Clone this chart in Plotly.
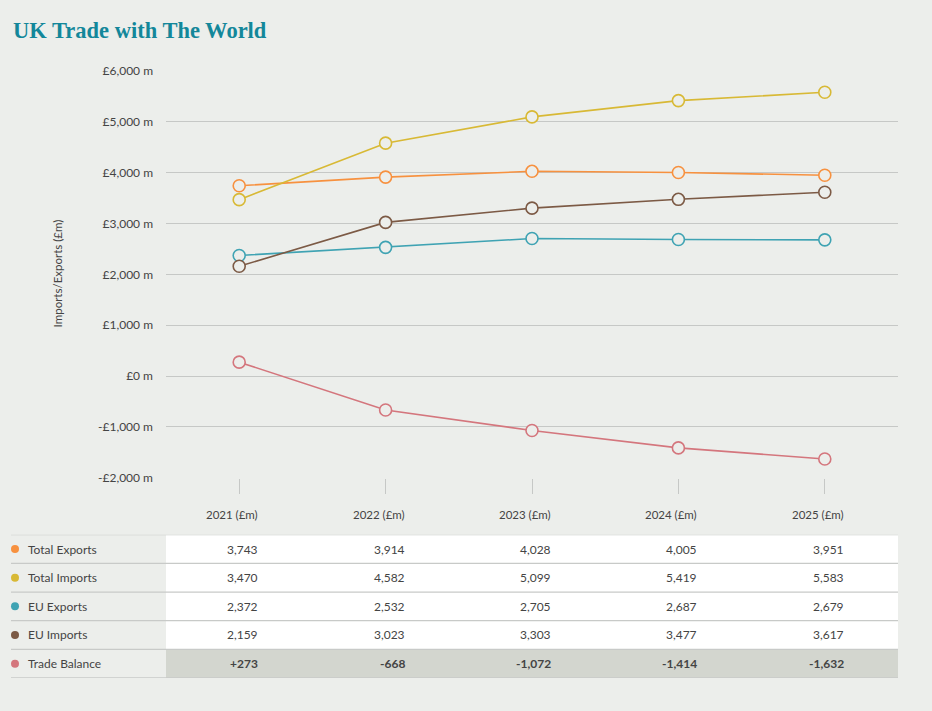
import plotly.graph_objects as go

years = ["2021", "2022", "2023", "2024", "2025"]
series = ["Total Exports", "Total Imports", "EU Exports", "EU Imports", "Trade Balance"]
total_exports = [3743, 3914, 4028, 4005, 3951]
total_imports = [3470, 4582, 5099, 5419, 5583]
eu_exports = [2372, 2532, 2705, 2687, 2679]
eu_imports = [2159, 3023, 3303, 3477, 3617]
trade_balance = [273, -668, -1072, -1414, -1632]
colors = ["#f7913f", "#d8b935", "#3fa3b3", "#7c5a45", "#d4767d"]
tick_vals = [-2000, -1000, 0, 1000, 2000, 3000, 4000, 5000, 6000]
tick_text = ["-£2,000 m", "-£1,000 m", "£0 m", "£1,000 m", "£2,000 m",
             "£3,000 m", "£4,000 m", "£5,000 m", "£6,000 m"]

values = [total_exports, total_imports, eu_exports, eu_imports, trade_balance]

W, H = 932, 711
BG = "#eceeeb"
TXT = "#444444"
GRID = "#c6c8c6"


def px(x):
    return x / W


# the paper area comes out ~8px inset top and bottom, so map page pixels onto it
def py(y):
    return 1 - (y - 8) / (H - 16)


fig = go.Figure()

for name, vals, col in zip(series, values, colors):
    fig.add_trace(go.Scatter(
        x=years, y=vals, name=name, mode="lines+markers",
        line=dict(color=col, width=1.6),
        marker=dict(size=12, color=BG, line=dict(color=col, width=1.6)),
        hoverinfo="x+y+name",
    ))

# legend dots of the table
fig.add_trace(go.Scatter(
    x=[15] * len(series), y=list(range(len(series))), mode="markers",
    marker=dict(size=8, color=colors), xaxis="x2", yaxis="y2",
    hoverinfo="skip", showlegend=False,
))

shapes = []
# cell backgrounds
for i in range(len(series)):
    shapes.append(dict(
        type="rect", xref="paper", yref="y2", x0=px(166), x1=px(898),
        y0=i - 0.5, y1=i + 0.5, line_width=0,
        fillcolor="#d3d6cf" if i == len(series) - 1 else "white", layer="below",
    ))
# horizontal row lines
for i in range(len(series) + 1):
    shapes.append(dict(
        type="line", xref="paper", yref="y2", x0=px(11), x1=px(898),
        y0=i - 0.5, y1=i - 0.5, line=dict(color="#c8cac8", width=1.2),
    ))

annotations = []
for i, (name, vals) in enumerate(zip(series, values)):
    annotations.append(dict(
        text=name, xref="paper", yref="y2", x=px(26), y=i, xanchor="left",
        showarrow=False, font=dict(size=12, color=TXT),
    ))
    for j, v in enumerate(vals):
        if name == "Trade Balance":
            s = f"<b>{v:+,}</b>" if v > 0 else f"<b>{v:,}</b>"
        else:
            s = f"{v:,}"
        annotations.append(dict(
            text=s, xref="x", yref="y2", x=j, y=i, xanchor="right", xshift=21,
            showarrow=False, font=dict(size=12, color=TXT),
        ))
for j, yr in enumerate(years):
    annotations.append(dict(
        text=f"{yr} (£m)", xref="x", yref="paper", x=j, y=py(514),
        xanchor="right", yanchor="middle", xshift=21, showarrow=False,
        font=dict(size=11.5, color=TXT),
    ))
annotations.append(dict(
    text="Imports/Exports (£m)", xref="paper", yref="paper", x=px(57), y=py(273),
    xanchor="center", yanchor="middle", textangle=-90, showarrow=False,
    font=dict(size=11.5, color=TXT),
))
annotations.append(dict(
    text="<b>UK Trade with The World</b>", xref="paper", yref="paper", x=px(11), y=py(30),
    xanchor="left", yanchor="middle", showarrow=False,
    font=dict(family="Liberation Serif", size=22.5, color="#13879a"),
))

fig.update_layout(
    width=W, height=H, margin=dict(l=0, r=0, t=0, b=0),
    paper_bgcolor=BG, plot_bgcolor=BG, showlegend=False,
    font=dict(family="Lato", size=12, color=TXT),
    xaxis=dict(domain=[px(166), px(898)], range=[-0.5, 4.5], type="category",
               showgrid=False, zeroline=False, showline=False,
               ticks="outside", ticklen=15, tickcolor=GRID, tickwidth=1,
               showticklabels=False),
    yaxis=dict(domain=[py(477), py(71)], range=[-2000, 6000],
               tickvals=tick_vals, ticktext=tick_text, gridcolor=GRID, gridwidth=1,
               zeroline=False, showline=False, ticks="", ticklabelstandoff=12,
               tickfont=dict(size=12, color=TXT)),
    xaxis2=dict(domain=[0, 1], range=[0, W], visible=False, anchor="y2"),
    yaxis2=dict(domain=[py(677), py(534)], range=[4.5, -0.5], visible=False, anchor="x2"),
    shapes=shapes, annotations=annotations,
)

fig.write_html("out.html", config={"displayModeBar": False},
               post_script="document.body.style.margin='0';document.body.style.overflow='hidden';")
